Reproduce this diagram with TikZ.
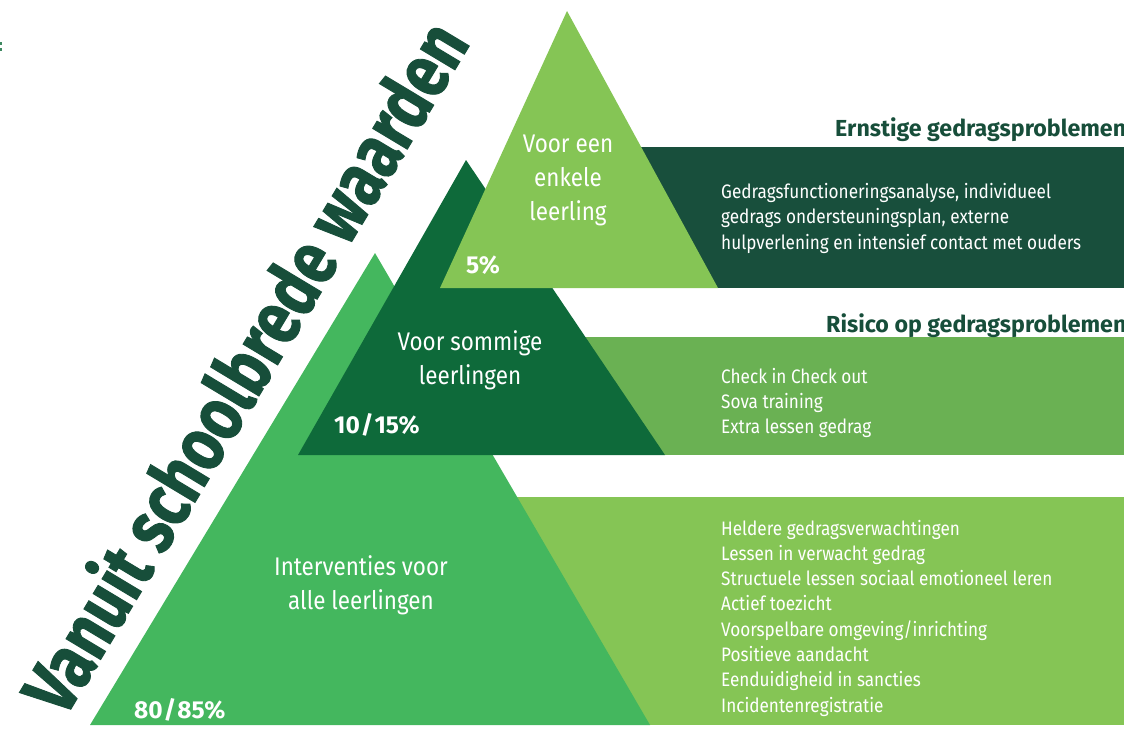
\documentclass[tikz,border=0pt]{standalone}
\usepackage{fontspec}
\setmainfont{Fira Sans}[FakeStretch=0.88]
\newfontfamily\titelfont{Fira Sans}[FakeStretch=0.8,BoldFeatures={FakeBold=1.2}]
\newfontfamily\kopfont{Fira Sans}

\begin{document}
\begin{tikzpicture}[x=1pt,y=-1pt,
	pyrtekst/.style={text=white,align=center,font=\fontsize{25.5}{34}\selectfont},
	procent/.style={text=white,anchor=base west,inner sep=0pt,font=\kopfont\bfseries\fontsize{24.5}{26}\selectfont},
	regel/.style={text=white,anchor=base west,inner sep=0pt,font=\fontsize{19.5}{22}\selectfont},
	kop/.style={text=kopgroen,anchor=base west,inner sep=0pt,font=\kopfont\bfseries\fontsize{23.2}{26}\selectfont}]
		\definecolor{kopgroen}{HTML}{174E3A}
		\definecolor{donkergroen}{HTML}{184F3C}
		\definecolor{bosgroen}{HTML}{0E6A3A}
		\definecolor{middengroen}{HTML}{6AB153}
		\definecolor{grasgroen}{HTML}{44B75E}
		\definecolor{lichtgroen}{HTML}{85C555}
		\useasboundingbox (0,0) rectangle (1124,729);
		% restje links boven
		\fill[bosgroen!80] (0,42) rectangle (2,45);
		\fill[bosgroen!80] (0,48) rectangle (2,51);
		% vakken
		\fill[donkergroen] (560,147) rectangle (1124,288);
		\fill[middengroen] (553,337) rectangle (1124,455);
		\fill[lichtgroen] (500,497) rectangle (1124,725);
		% driehoeken
		\fill[grasgroen] (375,253) -- (650,725) -- (90,725) -- cycle;
		\fill[bosgroen] (466,160) -- (665,455) -- (298,455) -- cycle;
		\fill[lichtgroen] (567,11) -- (718,288) -- (440,288) -- cycle;
		
		% titel
		\node[text=kopgroen,rotate=59,inner sep=0pt,anchor=base,font=\titelfont\bfseries\fontsize{76}{80}\selectfont] (titel) at (268,381) {Vanuit schoolbrede waarden};
		
		% tekst in driehoeken
		\node[pyrtekst] (enkele) at (568,180) {Voor een\\enkele\\leerling};
		\node[pyrtekst] (sommige) at (470,360) {Voor sommige\\leerlingen};
		\node[pyrtekst] (alle) at (361,585) {Interventies voor\\alle leerlingen};
		\node[procent] (p5) at (466,273) {5\%};
		\node[procent] (p10) at (334,433) {10\kern1pt/\kern1pt15\%};
		\node[procent] (p80) at (134,718) {80\kern1pt/\kern1pt85\%};
		
		% koppen
		\node[kop] (ernstig) at (835,136) {Ernstige gedragsproblemen};
		\node[kop] (risico) at (826,332) {Risico op gedragsproblemen};
		
		% lijsten
		\foreach \txt [count=\i from 0] in {{Gedragsfunctioneringsanalyse, individueel},gedrags ondersteuningsplan{,} externe,hulpverlening en intensief contact met ouders}
			\node[regel] (top\i) at (721,198+25.5*\i) {\txt};
		\foreach \txt [count=\i from 0] in {Check in Check out,Sova training,Extra lessen gedrag}
			\node[regel] (mid\i) at (721,383+25.3*\i) {\txt};
		\foreach \txt [count=\i from 0] in {Heldere gedragsverwachtingen,Lessen in verwacht gedrag,Structuele lessen sociaal emotioneel leren,Actief toezicht,Voorspelbare omgeving/inrichting,Positieve aandacht,Eenduidigheid in sancties,Incidentenregistratie}
			\node[regel] (ond\i) at (721,535+25.3*\i) {\txt};
		
		\end{tikzpicture}
\end{document}
